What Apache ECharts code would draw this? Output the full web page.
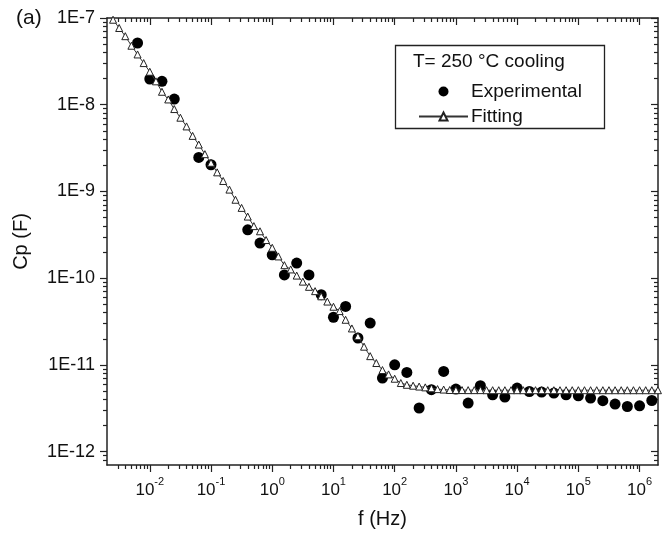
<!DOCTYPE html>
<html><head><meta charset="utf-8">
<script src="https://cdn.jsdelivr.net/npm/echarts@6/dist/echarts.min.js"></script>
<style>html,body{margin:0;padding:0;background:#fff}#c{width:672px;height:535px}</style>
</head><body><div id="c"></div>
<script>
// ---- data ----
const expFreq = [0.00631, 0.01, 0.0158, 0.0251, 0.0631, 0.1, 0.398, 0.631, 1, 1.58, 2.51, 3.98, 6.31, 10, 15.8, 25.1, 39.8, 63.1, 100, 158, 251, 398, 631, 1000, 1585, 2512, 3981, 6310, 10000, 15849, 25119, 39811, 63096, 100000, 158489, 251189, 398107, 630957, 1000000, 1584893];
const expCp = [5.15e-8, 1.98e-8, 1.86e-8, 1.16e-8, 2.47e-9, 2.03e-9, 3.61e-10, 2.54e-10, 1.86e-10, 1.09e-10, 1.49e-10, 1.09e-10, 6.44e-11, 3.54e-11, 4.72e-11, 2.04e-11, 3.03e-11, 7.05e-12, 1.00e-11, 8.17e-12, 3.18e-12, 5.17e-12, 8.39e-12, 5.26e-12, 3.62e-12, 5.74e-12, 4.52e-12, 4.25e-12, 5.40e-12, 4.93e-12, 4.85e-12, 4.73e-12, 4.52e-12, 4.40e-12, 4.14e-12, 3.86e-12, 3.53e-12, 3.31e-12, 3.37e-12, 3.88e-12];

const fitFreq = [0.00251, 0.00316, 0.00398, 0.00501, 0.00631, 0.00794,
  0.01, 0.0126, 0.0158, 0.02, 0.0251, 0.0316, 0.0398, 0.0501, 0.0631, 0.0794,
  0.1, 0.126, 0.158, 0.2, 0.251, 0.316, 0.398, 0.501, 0.631, 0.794,
  1, 1.26, 1.58, 2, 2.51, 3.16, 3.98, 5.01, 6.31, 7.94,
  10, 12.6, 15.8, 20, 25.1, 31.6, 39.8, 50.1, 63.1, 79.4,
  100, 126, 158, 200, 251, 316, 398, 501, 631, 794,
  1000, 1259, 1585, 1995, 2512, 3162, 3981, 5012, 6310, 7943,
  10000, 12589, 15849, 19953, 25119, 31623, 39811, 50119, 63096, 79433,
  100000, 125893, 158489, 199526, 251189, 316228, 398107, 501187, 630957, 794328,
  1000000, 1258925, 1584893, 1995262];
const fitCp = [9.55e-8, 7.67e-8, 6.17e-8, 4.79e-8, 3.80e-8, 3.02e-8,
  2.40e-8, 1.86e-8, 1.41e-8, 1.15e-8, 8.91e-9, 7.08e-9, 5.62e-9, 4.37e-9, 3.47e-9, 2.69e-9,
  2.14e-9, 1.66e-9, 1.32e-9, 1.05e-9, 8.02e-10, 6.46e-10, 5.13e-10, 3.98e-10, 3.47e-10, 2.75e-10,
  2.24e-10, 1.78e-10, 1.41e-10, 1.26e-10, 1.07e-10, 9.12e-11, 7.94e-11, 7.08e-11, 6.17e-11, 5.37e-11,
  4.68e-11, 4.17e-11, 3.31e-11, 2.63e-11, 2.14e-11, 1.62e-11, 1.26e-11, 1.05e-11, 8.71e-12, 7.76e-12,
  6.92e-12, 6.17e-12, 5.89e-12, 5.75e-12, 5.62e-12, 5.50e-12, 5.37e-12, 5.25e-12, 5.19e-12, 5.13e-12,
  5.12e-12, 5.12e-12, 5.11e-12, 5.11e-12, 5.11e-12, 5.10e-12, 5.10e-12, 5.10e-12, 5.10e-12, 5.10e-12,
  5.10e-12, 5.10e-12, 5.10e-12, 5.10e-12, 5.10e-12, 5.10e-12, 5.10e-12, 5.10e-12, 5.10e-12, 5.10e-12,
  5.10e-12, 5.10e-12, 5.10e-12, 5.10e-12, 5.10e-12, 5.10e-12, 5.10e-12, 5.10e-12, 5.10e-12, 5.10e-12,
  5.10e-12, 5.10e-12, 5.10e-12, 5.10e-12];

const xTickValues = [0.01, 0.1, 1, 10, 100, 1000, 10000, 100000, 1000000];
const xTickExps = ['-2', '-1', '0', '1', '2', '3', '4', '5', '6'];
const yTickValues = [1e-12, 1e-11, 1e-10, 1e-9, 1e-8, 1e-7];
const yTickLabels = ['1E-12', '1E-11', '1E-10', '1E-9', '1E-8', '1E-7'];

const seriesNames = ['Experimental', 'Fitting'];
const legendTitle = 'T= 250 \u00B0C cooling';
const xName = 'f (Hz)';
const yName = 'Cp (F)';
const panelLabel = '(a)';

// ---- axis helpers ----
const X_MIN = 0.002, X_MAX = 2e6, Y_MIN = 7e-13, Y_MAX = 1e-7;
function minorTicks(lo, hi) {
  const out = [];
  for (let e = -14; e <= 7; e++) {
    for (let k = 2; k <= 9; k++) {
      const v = k * Math.pow(10, e);
      if (v > lo * 1.0001 && v < hi * 0.9999) out.push(v);
    }
  }
  return out;
}
const xMinor = minorTicks(X_MIN, X_MAX);
const yMinor = minorTicks(Y_MIN, Y_MAX);
function nearestIdx(arr, v) {
  let best = 0, bd = Infinity;
  arr.forEach((a, i) => { const d = Math.abs(Math.log10(a) - Math.log10(v)); if (d < bd) { bd = d; best = i; } });
  return best;
}
const AX = '#222';
const FONT = 'Liberation Sans';

function xAx(pos, ticks, len, inside, line, labels) {
  const o = {
    type: 'log', logBase: 10, min: X_MIN, max: X_MAX, position: pos, gridIndex: 0,
    axisLine: { show: line, lineStyle: { color: AX, width: 1.5 } },
    axisTick: { show: true, customValues: ticks, length: len, inside: inside, lineStyle: { color: AX, width: 1.2 } },
    axisLabel: { show: false },
    splitLine: { show: false }, minorTick: { show: false }, minorSplitLine: { show: false }
  };
  if (labels) {
    o.axisLabel = {
      show: true, customValues: xTickValues, margin: 10,
      formatter: v => '{b|10}{s|' + xTickExps[nearestIdx(xTickValues, v)] + '}',
      rich: {
        b: { fontFamily: FONT, fontSize: 17, color: '#111', lineHeight: 24, verticalAlign: 'bottom' },
        s: { fontFamily: FONT, fontSize: 11, color: '#111', verticalAlign: 'top', padding: [1, 0, 0, 0] }
      }
    };
    o.name = xName; o.nameLocation = 'middle'; o.nameGap = 44;
    o.nameTextStyle = { fontFamily: FONT, fontSize: 20, color: '#111' };
  }
  return o;
}
function yAx(pos, ticks, len, inside, line, labels) {
  const o = {
    type: 'log', logBase: 10, min: Y_MIN, max: Y_MAX, position: pos, gridIndex: 0,
    axisLine: { show: line, lineStyle: { color: AX, width: 1.5 } },
    axisTick: { show: true, customValues: ticks, length: len, inside: inside, lineStyle: { color: AX, width: 1.2 } },
    axisLabel: { show: false },
    splitLine: { show: false }, minorTick: { show: false }, minorSplitLine: { show: false }
  };
  if (labels) {
    o.axisLabel = {
      show: true, customValues: yTickValues, margin: 12,
      fontFamily: FONT, fontSize: 18, color: '#111',
      formatter: v => yTickLabels[nearestIdx(yTickValues, v)]
    };
    o.name = yName; o.nameLocation = 'middle'; o.nameGap = 76; o.nameRotate = 90;
    o.nameTextStyle = { fontFamily: FONT, fontSize: 20, color: '#111' };
  }
  return o;
}

const chart = echarts.init(document.getElementById('c'), null, { renderer: 'canvas' });
chart.setOption({
  animation: false,
  backgroundColor: '#fff',
  grid: { left: 107, right: 14, top: 18, bottom: 70, containLabel: false },
  xAxis: [
    xAx('bottom', xTickValues, 7, false, true, true),
    xAx('bottom', xMinor, 4, false, false, false),
    xAx('top', xTickValues, 7, true, true, false),
    xAx('top', xMinor, 4, true, false, false)
  ],
  yAxis: [
    yAx('left', yTickValues, 7, false, true, true),
    yAx('left', yMinor, 4, false, false, false),
    yAx('right', yTickValues, 7, true, true, false),
    yAx('right', yMinor, 4, true, false, false)
  ],
  legend: {
    orient: 'vertical', left: 413, top: 77,
    itemWidth: 49, itemHeight: 10, itemGap: 6,
    textStyle: { fontFamily: FONT, fontSize: 19, color: '#111', padding: [0, 0, 0, -2] },
    data: seriesNames
  },
  graphic: [
    { type: 'rect', left: 393, top: 43, shape: { width: 209, height: 83 }, style: { fill: 'none', stroke: '#222', lineWidth: 1.3 }, z: 10 },
    { type: 'text', left: 413, top: 52, style: { text: legendTitle, font: '19px "Liberation Sans"', fill: '#111' }, z: 10 },
    { type: 'text', left: 16, top: 8, style: { text: panelLabel, font: '21px "Liberation Sans"', fill: '#111' }, z: 10 }
  ],
  series: [
    {
      name: seriesNames[0], type: 'scatter', xAxisIndex: 0, yAxisIndex: 0,
      symbol: 'circle', symbolSize: 11, symbolKeepAspect: true,
      itemStyle: { color: '#000', opacity: 1 },
      data: expFreq.map((f, i) => [f, expCp[i]]), z: 3
    },
    {
      name: seriesNames[1], type: 'line', xAxisIndex: 0, yAxisIndex: 0,
      symbol: 'triangle', symbolSize: 7, showAllSymbol: true,
      itemStyle: { color: '#fff', borderColor: '#222', borderWidth: 1 },
      lineStyle: { color: '#333', width: 1 },
      data: fitFreq.map((f, i) => [f, fitCp[i]]), z: 4
    }
  ]
});
</script>
</body></html>
